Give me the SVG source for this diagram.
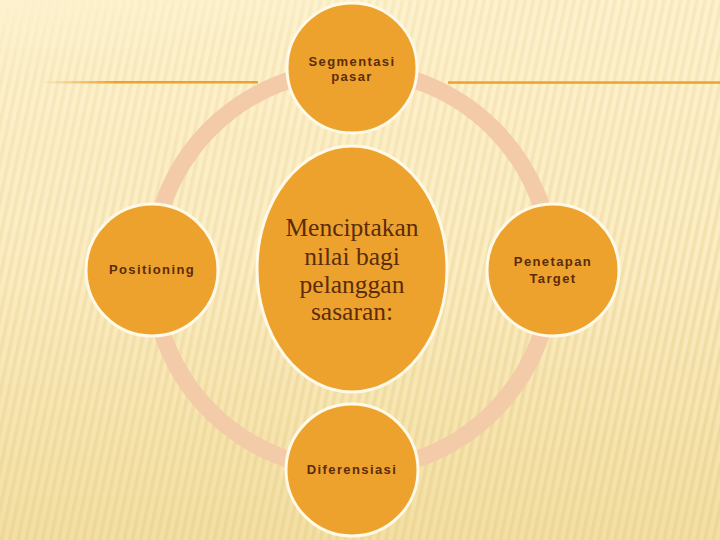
<svg xmlns="http://www.w3.org/2000/svg" width="720" height="540" viewBox="0 0 720 540">
<defs>
<linearGradient id="bg" x1="0" y1="0" x2="0" y2="1">
<stop offset="0" stop-color="#FDF2CE"/>
<stop offset="0.5" stop-color="#FBECC2"/>
<stop offset="1" stop-color="#F3DFA2"/>
</linearGradient>
<pattern id="stripes" width="8" height="8" patternUnits="userSpaceOnUse" patternTransform="rotate(12)">
<rect x="0" y="0" width="3.5" height="8" fill="#E9D190"/>
</pattern>
<linearGradient id="fade" x1="0" y1="0" x2="0.25" y2="1">
<stop offset="0" stop-color="#fff" stop-opacity="0"/>
<stop offset="0.15" stop-color="#fff" stop-opacity="0.25"/>
<stop offset="0.5" stop-color="#fff" stop-opacity="0.35"/>
<stop offset="1" stop-color="#fff" stop-opacity="0.6"/>
</linearGradient>
<mask id="m"><rect width="720" height="540" fill="url(#fade)"/></mask>
<linearGradient id="lineL" gradientUnits="userSpaceOnUse" x1="40" y1="0" x2="258" y2="0">
<stop offset="0" stop-color="#EEA22E" stop-opacity="0"/>
<stop offset="0.35" stop-color="#EEA22E"/>
<stop offset="1" stop-color="#EEA22E"/>
</linearGradient>
<style>
.node{fill:#EEA22E;stroke:#FFFAE8;stroke-width:3}
.lbl{font-family:"Liberation Sans",Arial,sans-serif;font-weight:bold;font-size:13px;letter-spacing:1.4px;fill:#5B2C0B;text-anchor:middle}
.big{font-family:"Liberation Serif","Times New Roman",serif;font-size:25.5px;fill:#5B2C0B;text-anchor:middle}
</style>
</defs>
<rect width="720" height="540" fill="url(#bg)"/>
<rect width="720" height="540" fill="url(#stripes)" mask="url(#m)"/>
<rect x="40" y="81" width="218" height="2.5" fill="url(#lineL)"/>
<rect x="448" y="81.3" width="272" height="2.5" fill="#EEA22E"/>
<g id="connectors">
<circle cx="352" cy="270" r="200" fill="none" stroke="#F3CBA8" stroke-width="17"/>
</g>
<g id="node-segmentasi">
<circle class="node" cx="352" cy="68" r="65"/>
<text class="lbl" x="352" y="66">Segmentasi</text>
<text class="lbl" x="352" y="81">pasar</text>
</g>
<g id="node-positioning">
<circle class="node" cx="152" cy="270" r="66"/>
<text class="lbl" x="152" y="274">Positioning</text>
</g>
<g id="node-penetapan">
<circle class="node" cx="553" cy="270" r="66"/>
<text class="lbl" x="553" y="266">Penetapan</text>
<text class="lbl" x="553" y="283">Target</text>
</g>
<g id="node-diferensiasi">
<circle class="node" cx="352" cy="470" r="66"/>
<text class="lbl" x="352" y="474">Diferensiasi</text>
</g>
<g id="node-center">
<ellipse class="node" cx="352" cy="269" rx="95" ry="123"/>
<text class="big" x="352" y="236">Menciptakan</text>
<text class="big" x="352" y="265">nilai bagi</text>
<text class="big" x="352" y="293">pelanggan</text>
<text class="big" x="352" y="320">sasaran:</text>
</g>
</svg>
